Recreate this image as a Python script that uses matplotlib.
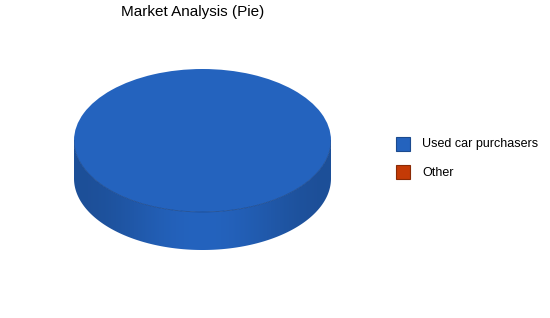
import numpy as np
import matplotlib
matplotlib.use("Agg")
import matplotlib.pyplot as plt
from matplotlib.patches import Rectangle, Polygon
from matplotlib.colors import to_rgb

plt.rcParams['font.family'] = ['Liberation Sans', 'DejaVu Sans']

categories = ["Used car purchasers", "Other"]
values = [100, 0]
colors = ["#2463BE", "#C43A06"]
edge_colors = ["#1B4A8E", "#8A2A05"]
title = "Market Analysis (Pie)"

W, H = 550, 318
fig = plt.figure(figsize=(W / 100, H / 100), dpi=100)
fig.patch.set_facecolor("white")

# overlay axes in pixel coordinates
ax0 = fig.add_axes([0, 0, 1, 1])
ax0.set_xlim(0, W)
ax0.set_ylim(H, 0)
ax0.axis("off")

# pie axes (ellipse)
left, right, top, bottom = 74, 331, 69, 250
ry_px = 71.5
depth = 38 / ry_px
ax = fig.add_axes([left / W, (H - bottom) / H, (right - left) / W, (bottom - top) / H])
wedges, _ = ax.pie(values, colors=colors, startangle=90, counterclock=False,
                   radius=1, center=(0, 0),
                   wedgeprops=dict(linewidth=0, antialiased=True))
for w in wedges:
    w.set_zorder(5)
ax.set_aspect("auto")

# side walls
xs = np.linspace(-1, 1, 400)
shade = 0.80 + 0.20 * np.cos(np.pi * xs / 2) ** 2
for w, col, v in zip(wedges, colors, values):
    if v <= 0:
        continue
    a, b = w.theta1, w.theta2
    for k in (-1, 0, 1):
        lo = max(a, 180 + 360 * k)
        hi = min(b, 360 + 360 * k)
        if lo >= hi:
            continue
        t = np.radians(np.linspace(lo, hi, 200))
        topx, topy = np.cos(t), np.sin(t)
        pts = np.concatenate([np.column_stack([topx, topy]),
                              np.column_stack([topx[::-1], topy[::-1] - depth])])
        poly = Polygon(pts, closed=True, facecolor="none", edgecolor="none")
        ax.add_patch(poly)
        rgb = np.array(to_rgb(col))
        img = np.clip(shade[None, :, None] * rgb[None, None, :], 0, 1)
        img = np.repeat(img, 2, axis=0)
        im = ax.imshow(img, extent=(-1, 1, -1 - depth, 0), aspect="auto",
                       interpolation="bilinear", zorder=2)
        im.set_clip_path(poly)
        # rim line at the front edge of the top face
        ax.plot(topx, topy, color="#1D4C92", linewidth=0.6, zorder=6)
ax.set_xlim(-1, 1)
ax.set_ylim(-1 - depth, 1)
ax.axis("off")

# title
ax0.text(193, 12, title, ha="center", va="center", fontsize=11, color="#000000")

# legend
for i, (cat, col, ec) in enumerate(zip(categories, colors, edge_colors)):
    y = 137 + 28 * i
    ax0.add_patch(Rectangle((396, y), 14, 14, facecolor=col, edgecolor=ec, linewidth=0.8))
    ax0.text(422, y + 7.5, cat, ha="left", va="center", fontsize=9, color="#000000")

fig.savefig("out.png", dpi=100, facecolor="white")
